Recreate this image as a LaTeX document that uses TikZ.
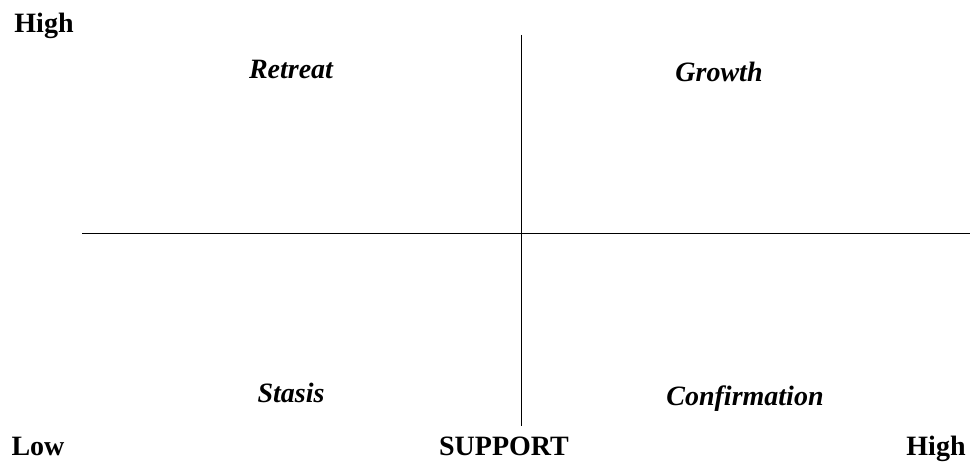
\documentclass[tikz,border=0pt]{standalone}
\usepackage{fontspec}
\setmainfont{Liberation Serif}
\begin{document}
\begin{tikzpicture}[x=1pt,y=-1pt,
  lab/.style={font=\fontsize{28}{30}\selectfont\bfseries, anchor=base, inner sep=0pt},
  quad/.style={font=\fontsize{28}{30}\selectfont\bfseries\itshape, anchor=base, inner sep=0pt},
  axis/.style={line width=1pt, black}]
\useasboundingbox (0,0) rectangle (970,462);
\coordinate (vtop) at (521,35);
\coordinate (vbot) at (521,426);
\coordinate (hleft) at (82,234);
\coordinate (hright) at (970,234);
\draw[axis] (vtop) -- (vbot);
\draw[axis] (hleft) -- (hright);
\node[lab] (highy) at (44,33) {High};
\node[quad] (retreat) at (291,79) {Retreat};
\node[quad] (growth) at (719,82) {Growth};
\node[quad] (stasis) at (291,403) {Stasis};
\node[quad] (confirm) at (745,406) {Confirmation};
\node[lab] (low) at (38,456) {Low};
\node[lab] (support) at (504,456) {SUPPORT};
\node[lab] (highx) at (936,456) {High};
\end{tikzpicture}
\end{document}
